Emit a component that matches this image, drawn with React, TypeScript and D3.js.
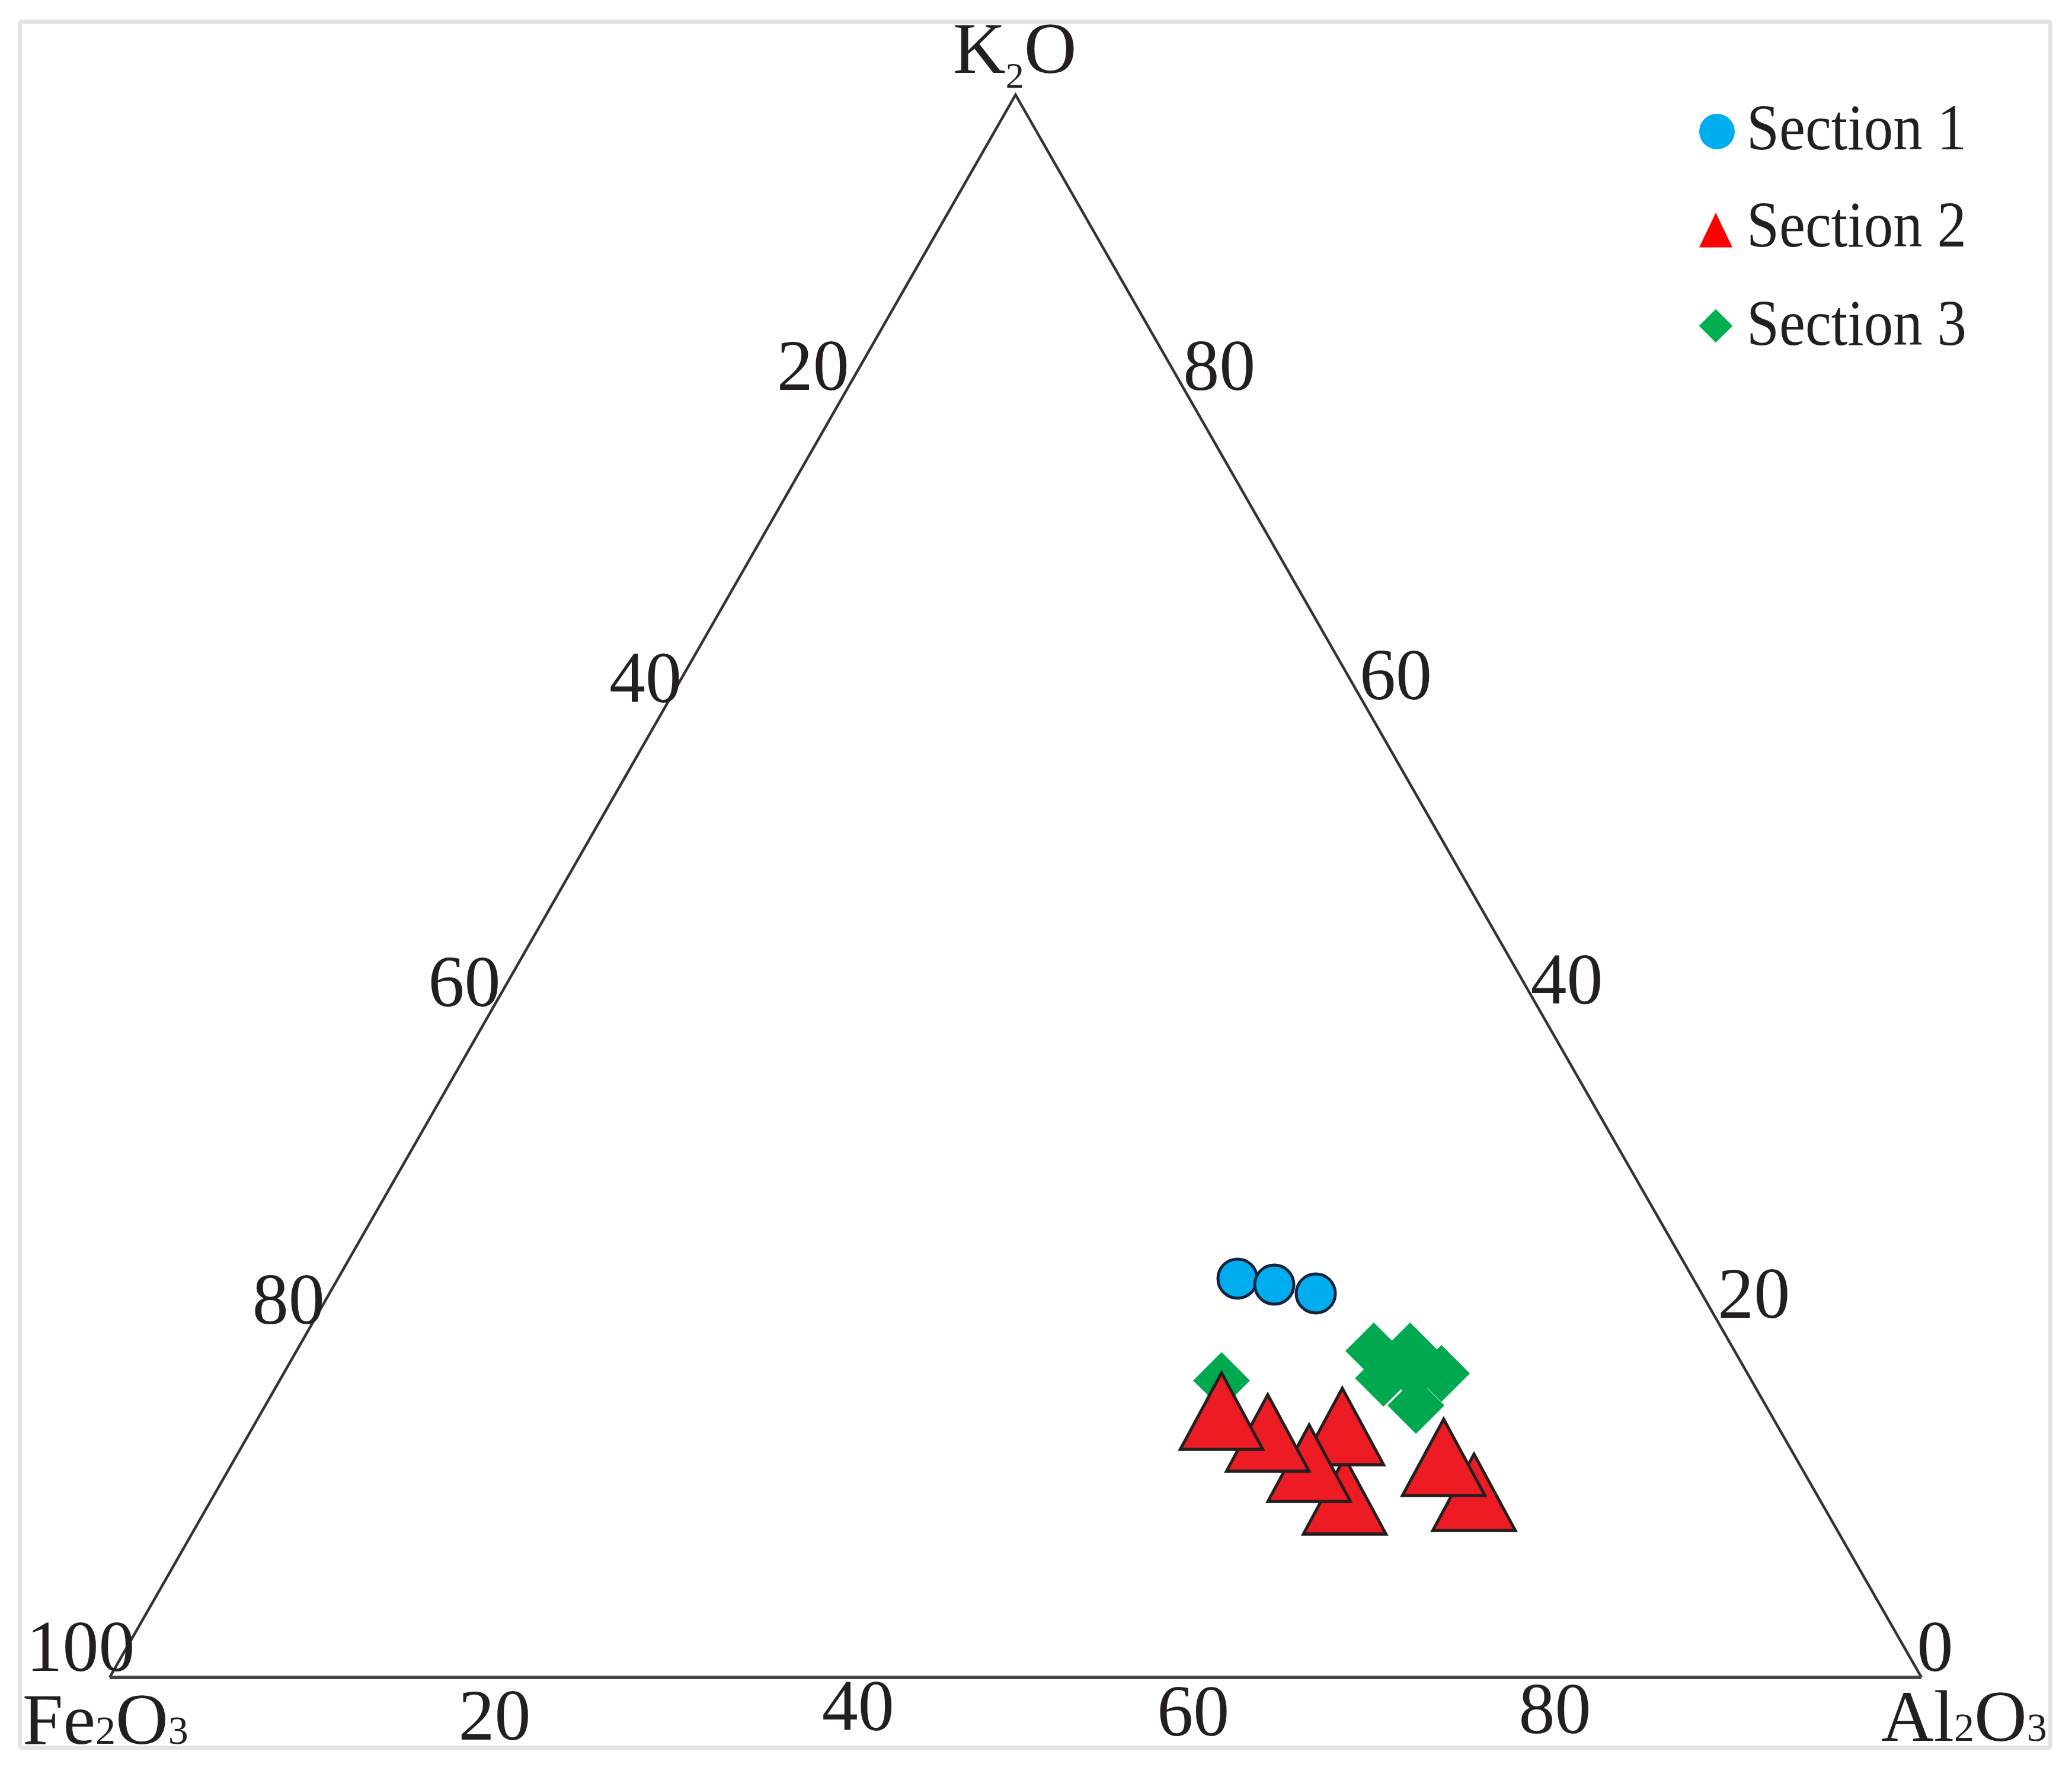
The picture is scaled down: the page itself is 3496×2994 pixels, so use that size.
import React from "react";
import * as d3 from "d3";

// Ternary samples, in % of each oxide (Al2O3, K2O; Fe2O3 is the remainder)
const section1Al = [49.65, 51.87, 54.44];
const section1K = [25.2, 24.82, 24.26];
const section2Al = [62.83, 60.51, 59.84, 56.6, 53.36, 69.86, 67.08];
const section2K = [10.67, 15.05, 12.73, 14.64, 16.02, 10.89, 13.1];
const section3Al = [51.99, 59.46, 61.46, 62.36, 63.9, 60.85, 63.51];
const section3K = [18.76, 20.63, 20.63, 19.21, 19.21, 18.91, 17.18];

const legendLabels = ["Section 1", "Section 2", "Section 3"];
const leftTicks = [20, 40, 60, 80, 100];
const rightTicks = [80, 60, 40, 20, 0];
const bottomTicks = [20, 40, 60, 80];

const W = 3496;
const H = 2994;
const INK = "#231f20";
const SERIF = "'Liberation Serif', serif";

const sx = d3.scaleLinear().domain([0, 100]).range([185, 3242]);
const sy = d3.scaleLinear().domain([0, 100]).range([2831, 160]);
const px = (al: number, k: number) => sx(al + k / 2);
const py = (k: number) => sy(k);

const leftOffsets = [[-36, -76], [-13, -84], [-13, -105], [-4, -103], [-49, -51]];
const rightOffsets = [[38, -76], [30, -89], [13, -109], [23, -113], [23, -51]];
const bottomOffsets = [[38, 65], [40, 49], [-6, 58], [-7, 54]];

const triPath = d3.symbol().type(d3.symbolTriangle).size(8400)()!;
const diaPath = d3.symbol().type(d3.symbolDiamond2).size(5875)()!;
const triLegend = d3.symbol().type(d3.symbolTriangle).size(1800)()!;
const diaLegend = d3.symbol().type(d3.symbolDiamond2).size(2050)()!;

const TICK = 122;
const tick = (s: number, x: number, y: number, key: string) => (
  <text key={key} x={x} y={y + TICK * 0.33} textAnchor="middle" fontSize={TICK} fontFamily={SERIF} fill={INK}>
    {s}
  </text>
);

const outline = d3.line()([
  [sx(0), sy(0)],
  [sx(50), sy(100)],
  [sx(100), sy(0)],
])!;

export default function App() {
  return (
    <svg width={W} height={H} viewBox={`0 0 ${W} ${H}`} style={{ position: "absolute", left: 0, top: 0, background: "#fff" }}>
      <rect x={33.5} y={36.5} width={3426} height={2913} rx={3} fill="#fefefe" stroke="#e3e3e3" strokeWidth={7} />

      <path d={outline} fill="none" stroke="#333" strokeWidth={4.5} strokeLinejoin="miter" />
      <line x1={sx(0)} x2={sx(100)} y1={sy(0)} y2={sy(0)} stroke="#444" strokeWidth={6} />

      {leftTicks.map((v, i) =>
        tick(v, px(0, 100 - v) + leftOffsets[i][0], py(100 - v) + leftOffsets[i][1], "l" + v)
      )}
      {rightTicks.map((v, i) =>
        tick(v, px(100 - v, v) + rightOffsets[i][0], py(v) + rightOffsets[i][1], "r" + v)
      )}
      {bottomTicks.map((v, i) =>
        tick(v, px(v, 0) + bottomOffsets[i][0], py(0) + bottomOffsets[i][1], "b" + v)
      )}

      <text x={1608} y={123} fontSize={123} fontFamily={SERIF} fill={INK}>
        K<tspan fontSize={62} dy={25}>2</tspan><tspan dy={-25}>O</tspan>
      </text>
      <text x={38} y={2943} fontSize={123} fontFamily={SERIF} fill={INK}>
        Fe<tspan fontSize={68}>2</tspan>O<tspan fontSize={68}>3</tspan>
      </text>
      <text x={3174} y={2938} fontSize={123} fontFamily={SERIF} fill={INK}>
        Al<tspan fontSize={68}>2</tspan>O<tspan fontSize={68}>3</tspan>
      </text>

      {section1Al.map((al, i) => (
        <circle key={i} cx={px(al, section1K[i])} cy={py(section1K[i])} r={33} fill="#00aeef" stroke="#14233c" strokeWidth={5} />
      ))}
      {section3Al.map((al, i) => (
        <path key={i} d={diaPath} transform={`translate(${px(al, section3K[i])},${py(section3K[i])})`} fill="#00a94f" />
      ))}
      {section2Al.map((al, i) => (
        <path key={i} d={triPath} transform={`translate(${px(al, section2K[i])},${py(section2K[i])}) scale(1,1.07)`} fill="#ed1c24" stroke={INK} strokeWidth={5} />
      ))}

      <circle cx={2897} cy={222} r={30} fill="#00aeef" />
      <path d={triLegend} transform="translate(2895,398) scale(0.87,1.05)" fill="#ff0000" />
      <path d={diaLegend} transform="translate(2895,550)" fill="#00b050" />
      {legendLabels.map((s, i) => (
        <text key={s} x={2947} y={[252, 416, 582][i]} fontSize={110} textLength={371} lengthAdjust="spacingAndGlyphs" fontFamily={SERIF} fill={INK}>
          {s}
        </text>
      ))}
    </svg>
  );
}
